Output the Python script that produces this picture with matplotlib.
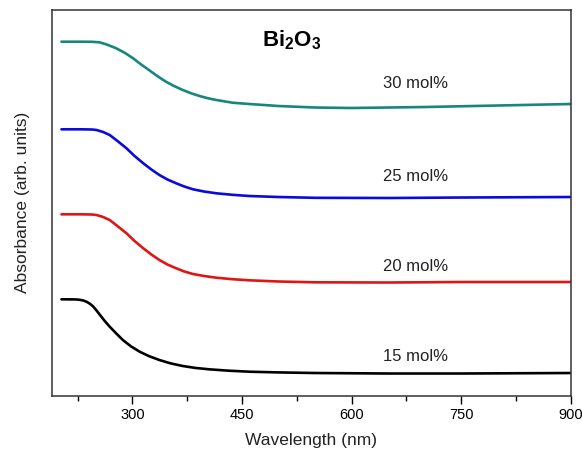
import matplotlib.pyplot as plt
from matplotlib.ticker import MultipleLocator

plt.rcParams['font.family'] = ['Liberation Sans', 'DejaVu Sans']
plt.rcParams['mathtext.fontset'] = 'custom'
plt.rcParams['mathtext.rm'] = 'Liberation Sans'
plt.rcParams['mathtext.bf'] = 'Liberation Sans:bold'

# data (absorbance in arbitrary units, curves offset)
wl_30 = [203, 230, 245, 255, 265, 278, 290, 301, 312, 324, 335, 346, 357, 369, 380, 392, 403,
         415, 437, 460, 500, 550, 600, 700, 800, 900]
abs_30 = [3.543, 3.543, 3.542, 3.537, 3.515, 3.477, 3.43, 3.377, 3.315, 3.253, 3.195, 3.143, 3.10,
          3.06, 3.028, 3.0, 2.978, 2.96, 2.933, 2.92, 2.90, 2.885, 2.88, 2.89, 2.905, 2.92]

wl_25 = [203, 230, 245, 251, 260, 269, 280, 292, 303, 315, 326, 337, 348, 360, 371, 383, 398,
         415, 437, 460, 500, 550, 650, 750, 900]
abs_25 = [2.667, 2.667, 2.665, 2.66, 2.64, 2.61, 2.548, 2.477, 2.40, 2.327, 2.265, 2.21, 2.165,
          2.127, 2.095, 2.067, 2.045, 2.027, 2.012, 2.0, 1.99, 1.982, 1.98, 1.985, 1.99]

wl_20 = [203, 230, 245, 251, 260, 269, 280, 292, 303, 315, 326, 337, 348, 360, 371, 383, 398,
         415, 437, 460, 500, 550, 650, 750, 900]
abs_20 = [1.817, 1.817, 1.815, 1.81, 1.79, 1.76, 1.697, 1.627, 1.55, 1.477, 1.415, 1.36, 1.315,
          1.277, 1.245, 1.22, 1.20, 1.183, 1.168, 1.157, 1.145, 1.137, 1.135, 1.14, 1.14]

wl_15 = [203, 222, 228, 233, 238, 242, 246, 250, 255, 262, 269, 278, 287, 298, 310, 323, 337,
         352, 369, 386, 405, 430, 460, 500, 550, 650, 750, 900]
abs_15 = [0.967, 0.966, 0.962, 0.955, 0.94, 0.922, 0.898, 0.864, 0.817, 0.752, 0.693, 0.625,
          0.56, 0.497, 0.443, 0.398, 0.36, 0.327, 0.30, 0.281, 0.267, 0.254, 0.243, 0.236, 0.23,
          0.225, 0.225, 0.23]

labels = ["30 mol%", "25 mol%", "20 mol%", "15 mol%"]
label_y = [3.13, 2.20, 1.30, 0.40]
colors = ["#17877d", "#0a0adc", "#e01515", "black"]

fig = plt.figure(figsize=(5.82, 4.53), dpi=100)
ax = fig.add_axes([0.0893, 0.1258, 0.8917, 0.8532])

for x, y, c in zip([wl_30, wl_25, wl_20, wl_15], [abs_30, abs_25, abs_20, abs_15], colors):
    ax.plot(x, y, color=c, lw=1.9, solid_capstyle='round', solid_joinstyle='round')

for lab, yy in zip(labels, label_y):
    ax.text(688, yy, lab, fontsize=12, ha='center', va='center', color='#222222')

ax.text(518, 3.555, r'Bi$_\mathbf{2}$O$_\mathbf{3}$', fontsize=16, fontweight='bold',
        ha='center', va='center')

ax.set_xlim(190, 900)
ax.set_ylim(0, 3.865)
ax.set_yticks([])
ax.xaxis.set_major_locator(MultipleLocator(150))
ax.xaxis.set_minor_locator(MultipleLocator(75))
ax.tick_params(axis='x', which='major', direction='out', length=5.5, width=1, labelsize=10.5, pad=3)
ax.tick_params(axis='x', which='minor', direction='out', length=3.5, width=1)
for s in ax.spines.values():
    s.set_linewidth(1.1)
    s.set_color('#333333')

ax.set_xlabel("Wavelength (nm)", fontsize=12.5, labelpad=8, color='#222222')
ax.set_ylabel("Absorbance (arb. units)", fontsize=12.5, labelpad=16, color='#222222')

fig.savefig("out.png", dpi=100)
